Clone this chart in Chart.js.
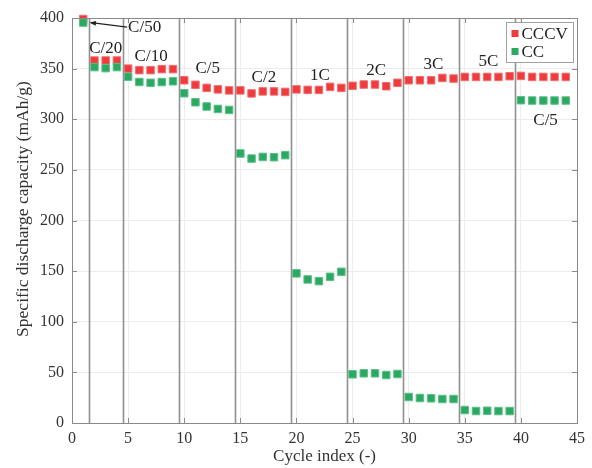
<!DOCTYPE html>
<html>
<head>
<meta charset="utf-8">
<script src="https://cdn.jsdelivr.net/npm/chart.js@4/dist/chart.umd.min.js"></script>
<style>
  html, body { margin: 0; padding: 0; background: #fff; }
  #wrap { width: 592px; height: 468px; position: relative; }
</style>
</head>
<body>
<div id="wrap"><canvas id="c" width="592" height="468"></canvas></div>
<script>
// ---- data ----
const cycles = [1,2,3,4,5,6,7,8,9,10,11,12,13,14,15,16,17,18,19,20,21,22,23,24,25,26,27,28,29,30,31,32,33,34,35,36,37,38,39,40,41,42,43,44];
const cccv = [399,358,358,358,350,348.5,348.5,349.5,349.5,338.5,334,331,329.5,328.5,328.5,325.5,327.5,327.5,327,329.5,329,329,332,331,333,334.3,334.3,332.6,336,338.5,338.5,338.5,340.8,340.2,341.8,341.8,341.8,341.8,342.5,342.8,341.8,341.8,341.8,341.8];
const ccCycles = [1,2,3,4,5,6,7,8,9,10,11,12,13,14,15,16,17,18,19,20,21,22,23,24,25,26,27,28,29,30,31,32,33,34,35,36,37,38,39,40,41,42,43,44];
const cc = [395.5,351.5,350.5,351.5,342,336.8,336,336.7,337.5,325.7,316.8,312.6,310.2,309.2,266.2,261.2,262.8,262.5,264.5,147.8,141.8,140.1,144.4,149.3,48.1,49.1,49.1,47.4,48.4,25.7,24.7,24.4,23.7,23.7,12.8,11.8,12.1,11.8,11.8,318.8,318.5,318.5,318.5,318.5];
const seriesNames = ['CCCV', 'CC'];
const separators = [1.5, 4.5, 9.5, 14.5, 19.5, 24.5, 29.5, 34.5, 39.5];
const xTicks = [0,5,10,15,20,25,30,35,40,45];
const yTicks = [0,50,100,150,200,250,300,350,400];
const rateLabels = ['C/50','C/20','C/10','C/5','C/2','1C','2C','3C','5C','C/5'];
const rateLabelX = [5.0, 3.0, 7.05, 12.1, 17.1, 22.1, 27.1, 32.2, 37.1, 42.2];
const rateLabelY = [391, 369.8, 361.5, 350, 341, 343.5, 348.4, 354, 357.3, 299];
const arrowTip = {x: 1.55, y: 395.5};
const yTitle = 'Specific discharge capacity (mAh/g)';
const xTitle = 'Cycle index (-)';

const RED = '#EE3B3D';
const GREEN = '#2BA862';
const FONT = '"Liberation Serif", "Times New Roman", serif';

const overlay = {
  id: 'overlay',
  beforeDatasetsDraw(chart) {
    const {ctx, chartArea: a, scales: {x, y}} = chart;
    ctx.save();
    ctx.strokeStyle = '#8f8f8f';
    ctx.lineWidth = 1.6;
    separators.forEach(v => {
      const px = Math.round(x.getPixelForValue(v)) + 0.5;
      ctx.beginPath(); ctx.moveTo(px, a.top); ctx.lineTo(px, a.bottom); ctx.stroke();
    });
    ctx.restore();
  },
  afterDraw(chart) {
    const {ctx, chartArea: a, scales: {x, y}} = chart;
    ctx.save();
    // frame
    ctx.strokeStyle = '#8a8a8a';
    ctx.lineWidth = 1;
    ctx.strokeRect(Math.round(a.left) + 0.5, Math.round(a.top) + 0.5, Math.round(a.right - a.left), Math.round(a.bottom - a.top));
    // inward ticks
    const tl = 5;
    ctx.beginPath();
    xTicks.forEach(v => {
      const px = Math.round(x.getPixelForValue(v)) + 0.5;
      ctx.moveTo(px, a.bottom); ctx.lineTo(px, a.bottom - tl);
      ctx.moveTo(px, a.top); ctx.lineTo(px, a.top + tl);
    });
    yTicks.forEach(v => {
      const py = Math.round(y.getPixelForValue(v)) + 0.5;
      ctx.moveTo(a.left, py); ctx.lineTo(a.left + tl, py);
      ctx.moveTo(a.right, py); ctx.lineTo(a.right - tl, py);
    });
    ctx.stroke();

    // y axis title
    ctx.save();
    ctx.translate(23, 209);
    ctx.rotate(-Math.PI / 2);
    ctx.fillStyle = '#333';
    ctx.font = '17.5px ' + FONT;
    ctx.textAlign = 'center';
    ctx.textBaseline = 'middle';
    ctx.fillText(yTitle, 0, 0);
    ctx.restore();

    // rate labels
    ctx.fillStyle = '#222';
    ctx.font = '17px ' + FONT;
    ctx.textBaseline = 'middle';
    rateLabels.forEach((t, i) => {
      const px = x.getPixelForValue(rateLabelX[i]);
      const py = y.getPixelForValue(rateLabelY[i]);
      ctx.textAlign = i === 0 ? 'left' : 'center';
      ctx.fillText(t, px, py);
    });
    // arrow for C/50
    const sx = x.getPixelForValue(rateLabelX[0]) - 1;
    const sy = y.getPixelForValue(rateLabelY[0]);
    const ex = x.getPixelForValue(arrowTip.x);
    const ey = y.getPixelForValue(arrowTip.y);
    ctx.strokeStyle = '#222';
    ctx.lineWidth = 1.2;
    ctx.beginPath(); ctx.moveTo(sx, sy); ctx.lineTo(ex + 2, ey); ctx.stroke();
    const ang = Math.atan2(sy - ey, sx - ex);
    ctx.fillStyle = '#222';
    ctx.beginPath();
    ctx.moveTo(ex, ey);
    ctx.lineTo(ex + 7 * Math.cos(ang - 0.35), ey + 7 * Math.sin(ang - 0.35));
    ctx.lineTo(ex + 7 * Math.cos(ang + 0.35), ey + 7 * Math.sin(ang + 0.35));
    ctx.closePath(); ctx.fill();

    // legend
    const lx = 506.5, ly = 22.5, lw = 67, lh = 40;
    ctx.fillStyle = '#fff';
    ctx.fillRect(lx, ly, lw, lh);
    ctx.strokeStyle = '#a0a0a0';
    ctx.lineWidth = 1;
    ctx.strokeRect(lx, ly, lw, lh);
    const items = [[seriesNames[0], RED, ly + 11], [seriesNames[1], GREEN, ly + 29]];
    ctx.font = '17px ' + FONT;
    ctx.textAlign = 'left';
    ctx.textBaseline = 'middle';
    items.forEach(([t, c, yy]) => {
      ctx.fillStyle = c;
      ctx.fillRect(lx + 5, yy - 3.5, 7, 7);
      ctx.fillStyle = '#222';
      ctx.fillText(t, lx + 15, yy + 1);
    });
    ctx.restore();
  }
};

new Chart(document.getElementById('c'), {
  type: 'scatter',
  data: {
    datasets: [
      {
        label: seriesNames[0],
        data: cycles.map((c, i) => ({x: c, y: cccv[i]})),
        backgroundColor: RED,
        borderColor: '#F26E70',
        borderWidth: 1,
        pointStyle: 'rect',
        pointRadius: 5.3,
        order: 2,
        clip: 6
      },
      {
        label: seriesNames[1],
        data: ccCycles.map((c, i) => ({x: c, y: cc[i]})),
        backgroundColor: GREEN,
        borderColor: '#5CC088',
        borderWidth: 1,
        pointStyle: 'rect',
        pointRadius: 5.3,
        order: 1,
        clip: 6
      }
    ]
  },
  options: {
    responsive: false,
    animation: false,
    devicePixelRatio: 1,
    layout: { padding: { left: 0, top: 18, right: 15, bottom: 0 } },
    plugins: { legend: { display: false }, tooltip: { enabled: false } },
    scales: {
      x: {
        type: 'linear', min: 0, max: 45,
        afterBuildTicks: s => { s.ticks = xTicks.map(v => ({value: v})); },
        afterFit: s => { s.height = 45; },
        grid: { color: '#ececec', lineWidth: 1, drawTicks: false },
        border: { display: false },
        ticks: { color: '#333', font: { family: FONT, size: 16 }, padding: 6, maxRotation: 0 },
        title: { display: true, text: xTitle, color: '#333', font: { family: FONT, size: 17 }, padding: { top: 0, bottom: 1 } }
      },
      y: {
        type: 'linear', min: 0, max: 400,
        afterBuildTicks: s => { s.ticks = yTicks.map(v => ({value: v})); },
        afterFit: s => { s.width = 72; },
        grid: { color: '#ececec', lineWidth: 1, drawTicks: false },
        border: { display: false },
        ticks: { color: '#333', font: { family: FONT, size: 16 }, padding: 8 },
        title: { display: false }
      }
    }
  },
  plugins: [overlay]
});
</script>
</body>
</html>
